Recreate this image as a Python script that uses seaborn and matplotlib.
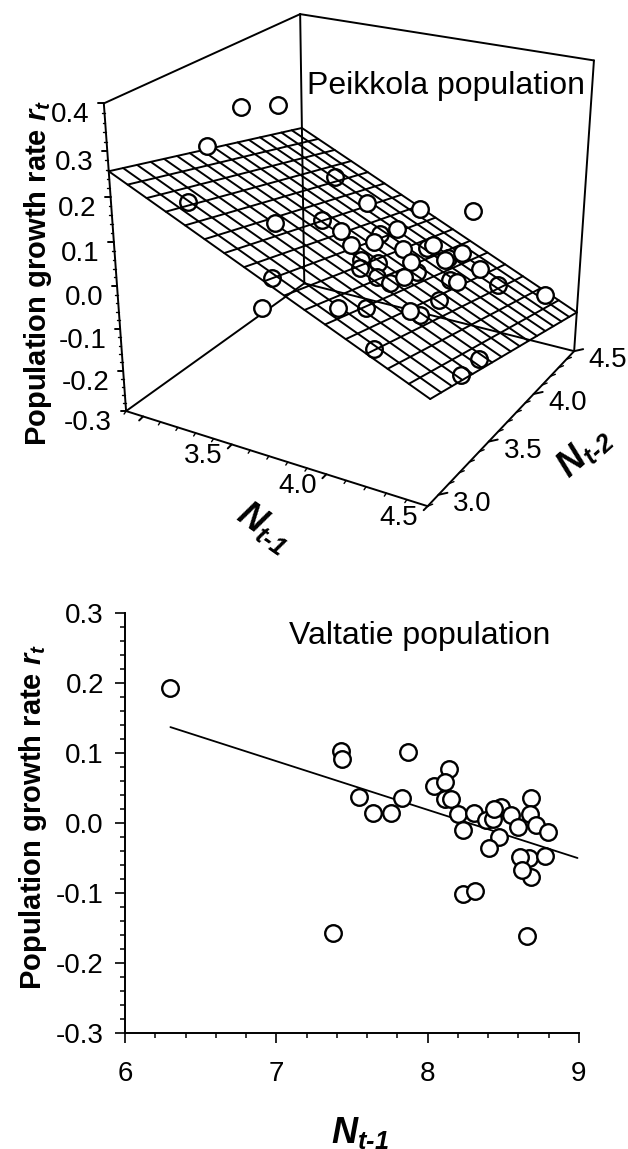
import numpy as np
import seaborn as sns
import matplotlib
matplotlib.use("Agg")
import matplotlib.pyplot as plt
from matplotlib.ticker import MultipleLocator, FormatStrFormatter

# Peikkola population (N t-1, N t-2, r t)
peik_n1 = [3.29, 3.324, 2.987, 3.104, 3.499, 3.632, 3.691, 3.427, 3.198, 3.554, 3.687, 3.955, 3.656, 3.745, 3.635, 3.771, 3.751, 3.866, 3.732, 3.75, 3.782, 3.824, 3.942, 4.0, 3.922, 3.902, 3.826, 3.907, 4.008, 3.92, 4.004, 4.123, 4.136, 4.033, 4.127, 4.395, 4.067, 4.013, 3.946, 4.166, 4.107, 4.121, 4.391, 4.414]
peik_n2 = [3.367, 3.622, 3.518, 3.193, 3.303, 3.067, 2.89, 3.827, 4.337, 4.041, 4.35, 4.408, 3.621, 3.558, 4.03, 3.726, 3.988, 3.84, 3.673, 3.632, 3.749, 3.659, 3.775, 3.601, 3.608, 3.912, 4.161, 4.072, 4.188, 4.214, 4.007, 4.151, 3.876, 4.009, 4.358, 4.328, 3.828, 2.983, 3.346, 3.351, 3.557, 3.105, 3.598, 3.366]
peik_r = [0.359, 0.33, 0.226, 0.161, 0.133, 0.067, 0.04, 0.042, 0.043, 0.058, 0.005, 0.017, 0.074, 0.062, -0.007, 0.042, 0.023, 0.013, 0.005, -0.005, -0.012, -0.023, 0.004, 0.007, -0.018, -0.05, -0.046, -0.015, -0.045, -0.07, -0.028, -0.064, -0.043, -0.074, -0.143, -0.134, -0.085, 0.058, -0.02, -0.004, -0.06, -0.044, -0.14, -0.124]
# fitted plane r = c0 + c1*N1 + c2*N2
plane_c0, plane_c1, plane_c2 = 1.083, -0.198, -0.087

# Valtatie population
valt_n1 = [6.297, 7.429, 7.433, 7.868, 7.545, 7.642, 7.760, 7.831, 8.138, 8.044, 8.114, 8.117, 8.156, 8.202, 8.306, 8.235, 8.385, 8.484, 8.433, 8.440, 8.549, 8.686, 8.675, 8.717, 8.796, 8.598, 8.473, 8.407, 8.670, 8.609, 8.774, 8.681, 8.622, 8.231, 8.314, 7.374, 8.655]
valt_r = [0.193, 0.103, 0.091, 0.102, 0.037, 0.015, 0.014, 0.036, 0.077, 0.053, 0.034, 0.058, 0.034, 0.013, 0.015, -0.010, 0.004, 0.023, 0.006, 0.020, 0.012, 0.036, 0.013, -0.003, -0.013, -0.006, -0.020, -0.035, -0.050, -0.048, -0.047, -0.077, -0.067, -0.102, -0.097, -0.157, -0.161]
fit_n1 = [6.30, 8.99]
fit_r = [0.137, -0.05]

r_ticks = [-0.3, -0.2, -0.1, 0.0, 0.1, 0.2, 0.3, 0.4]
n1_ticks = [3.5, 4.0, 4.5]
n2_ticks = [3.0, 3.5, 4.0, 4.5]
n_lo, n_hi, r_lo, r_hi = 2.9, 4.5, -0.3, 0.4

sns.set_style("ticks")
plt.rcParams["font.family"] = "Liberation Sans"
plt.rcParams["text.color"] = "black"
plt.rcParams["axes.labelcolor"] = "black"
plt.rcParams["xtick.labelcolor"] = "black"
plt.rcParams["ytick.labelcolor"] = "black"
plt.rcParams["mathtext.fontset"] = "custom"
plt.rcParams["mathtext.bfit"] = "Liberation Sans:italic:bold"
plt.rcParams["mathtext.it"] = "Liberation Sans:italic:bold"
plt.rcParams["mathtext.rm"] = "Liberation Sans:bold"

W, H = 628, 1149
fig = plt.figure(figsize=(W / 100, H / 100), dpi=100)
lw = 1.4
tick_fs = 20
title_fs = 23
label_fs = 21
n_fs = 26
dot_s = 142
dot_lw = 1.7

# camera of the 3d box: box corners -> picture pixels
box = [(n_lo, n_lo, r_hi, 103.3, 104), (n_lo, n_hi, r_hi, 301, 14), (n_hi, n_hi, r_hi, 593.5, 60),
       (n_lo, n_lo, r_lo, 126, 410.7), (n_lo, n_hi, r_lo, 304, 283.3), (n_hi, n_hi, r_lo, 574, 351.7),
       (n_hi, n_lo, r_lo, 428.3, 506)]
A = []
for x, y, z, u, v in box:
    A.append([x, y, z, 1, 0, 0, 0, 0, -u * x, -u * y, -u * z, -u])
    A.append([0, 0, 0, 0, x, y, z, 1, -v * x, -v * y, -v * z, -v])
P = np.linalg.svd(np.array(A))[2][-1].reshape(3, 4)


def project(x, y, z):
    x, y, z = np.broadcast_arrays(np.asarray(x, float), np.asarray(y, float), np.asarray(z, float))
    h = P @ np.array([x, y, z, np.ones_like(x)])
    return h[0] / h[2], h[1] / h[2]


def plane(x, y):
    return plane_c0 + plane_c1 * np.asarray(x) + plane_c2 * np.asarray(y)


ax3 = fig.add_axes([0, 0, 1, 1])
ax3.set_xlim(0, W)
ax3.set_ylim(H, 0)
ax3.axis("off")


def line3(p0, p1, lw_=lw, zorder=1):
    ax3.plot(*project(*zip(p0, p1)), color="black", lw=lw_, zorder=zorder, solid_capstyle="round")


# box frame
a, b, c, d = r_lo, r_hi, n_lo, n_hi
line3((c, c, a), (c, c, b))
line3((c, d, a), (c, d, b))
line3((d, d, a), (d, d, b))
line3((c, c, b), (c, d, b))
line3((c, d, b), (d, d, b))
line3((c, c, a), (c, d, a))
line3((c, d, a), (d, d, a))
line3((c, c, a), (d, c, a))
line3((d, c, a), (d, d, a))

# ticks on the box edges
for z in np.arange(0, 36):
    val = r_lo + z * 0.02
    u, v = project(n_lo, n_lo, val)
    major = z % 5 == 0
    ln = 5.5 if major else 2.5
    ax3.plot([u - ln, u], [v, v], color="black", lw=lw if major else 1.0)
for i in range(17):
    val = n_lo + i * 0.1
    major = i % 5 == 1
    u, v = project(val, n_lo, r_lo)
    dx, dy = (-4, 4) if major else (-2, 3)
    ax3.plot([u + dx, u], [v + dy, v], color="black", lw=lw if major else 1.0)
    u, v = project(n_hi, val, r_lo)
    dx, dy = (9, -2) if major else (5, -2)
    ax3.plot([u, u + dx], [v, v + dy], color="black", lw=lw if major else 1.0)

for val in r_ticks:
    u, v = project(n_lo, n_lo, val)
    ax3.text(u - 14, v + 12, f"{val:.1f}", ha="right", va="center", fontsize=tick_fs)
for val in n1_ticks:
    u, v = project(val, n_lo, r_lo)
    ax3.text(u - 29, v + 12, f"{val:.1f}", ha="center", va="center", fontsize=tick_fs)
for val in n2_ticks:
    u, v = project(n_hi, val, r_lo)
    ax3.text(u + 34, v + 9, f"{val:.1f}", ha="center", va="center", fontsize=tick_fs)

# points under the fitted surface are seen through the grid
peik_n1 = np.array(peik_n1)
peik_n2 = np.array(peik_n2)
peik_r = np.array(peik_r)
under = peik_r < plane(peik_n1, peik_n2)
pu, pv = project(peik_n1, peik_n2, peik_r)
marker = dict(s=dot_s, color="white", edgecolor="black", linewidth=dot_lw, legend=False, ax=ax3)
sns.scatterplot(x=pu[under], y=pv[under], zorder=3, **marker)

# fitted surface, 0.1 grid
steps = n_lo + np.arange(17) * 0.1
for val in steps:
    px, py = project([val, val], [n_lo, n_hi], plane([val, val], [n_lo, n_hi]))
    ax3.plot(px, py, color="black", lw=lw, zorder=4)
    px, py = project([n_lo, n_hi], [val, val], plane([n_lo, n_hi], [val, val]))
    ax3.plot(px, py, color="black", lw=lw, zorder=4)

sns.scatterplot(x=pu[~under], y=pv[~under], zorder=5, **marker)

ax3.text(446, 86, "Peikkola population", ha="center", va="center", fontsize=title_fs)
ax3.text(38, 273, r"Population growth rate $\mathbfit{r}_{\mathbfit{t}}$", rotation=90, ha="center", va="center",
         fontsize=label_fs, fontweight="bold")
ax3.text(264, 527, r"$\mathbfit{N}_{\mathbfit{t‐1}}$", rotation=-35, ha="center", va="center", fontsize=n_fs,
         fontweight="bold")
ax3.text(584, 452, r"$\mathbfit{N}_{\mathbfit{t‐2}}$", rotation=42, ha="center", va="center", fontsize=n_fs,
         fontweight="bold")

# bottom panel
ax = fig.add_axes([125 / W, 1 - 1033 / H, (579 - 125) / W, (1033 - 613) / H])
ax.patch.set_alpha(0)
sns.lineplot(x=fit_n1, y=fit_r, color="black", lw=1.3, ax=ax, zorder=2, errorbar=None)
sns.scatterplot(x=valt_n1, y=valt_r, s=dot_s, color="white", edgecolor="black", linewidth=dot_lw, ax=ax, zorder=3,
                legend=False)
ax.set_xlim(6, 9)
ax.set_ylim(-0.3, 0.3)
ax.xaxis.set_major_locator(MultipleLocator(1))
ax.xaxis.set_minor_locator(MultipleLocator(0.2))
ax.yaxis.set_major_locator(MultipleLocator(0.1))
ax.yaxis.set_minor_locator(MultipleLocator(0.02))
ax.yaxis.set_major_formatter(FormatStrFormatter("%.1f"))
ax.tick_params(axis="both", which="major", length=7.2, width=1.2, labelsize=tick_fs, color="black")
ax.tick_params(axis="both", which="minor", length=3.6, width=1.1, color="black")
ax.tick_params(axis="x", which="major", pad=13)
ax.tick_params(axis="y", which="major", pad=8)
for side in ["top", "right"]:
    ax.spines[side].set_visible(False)
for side in ["left", "bottom"]:
    ax.spines[side].set_linewidth(1.4)
    ax.spines[side].set_color("black")
ax.text(420, 636, "Valtatie population", ha="center", va="center", fontsize=title_fs, transform=ax3.transData)
ax.text(33, 817, r"Population growth rate $\mathbfit{r}_{\mathbfit{t}}$", rotation=90, ha="center", va="center",
        fontsize=label_fs, fontweight="bold", transform=ax3.transData)
ax.text(360, 1133, r"$\mathbfit{N}_{\mathbfit{t‐1}}$", ha="center", va="center", fontsize=n_fs, fontweight="bold",
        transform=ax3.transData)

fig.savefig("out.png", dpi=100)
